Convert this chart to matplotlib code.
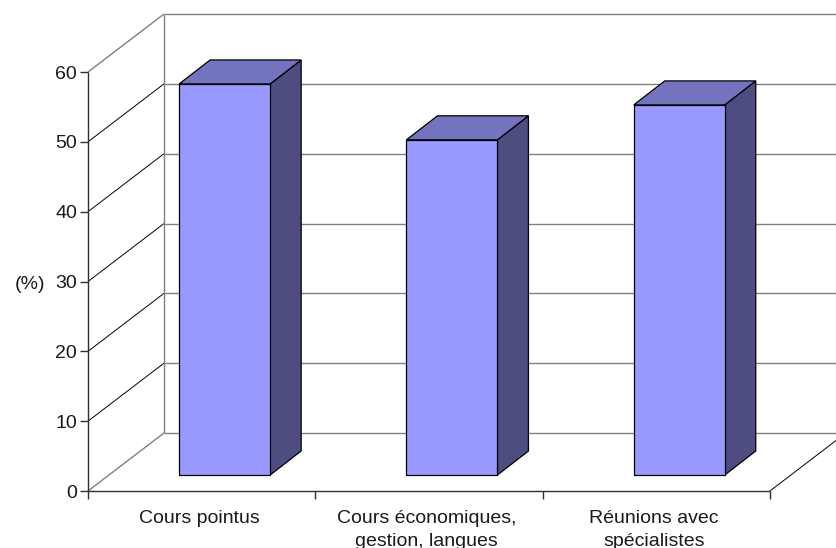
import matplotlib
matplotlib.use('Agg')
import matplotlib.pyplot as plt
from matplotlib.patches import Polygon

plt.rcParams['font.family'] = ['Liberation Sans', 'DejaVu Sans']

categories = ['Cours pointus', 'Cours économiques,\ngestion, langues', 'Réunions avec\nspécialistes']
values = [56, 48, 53]
yticks = [0, 10, 20, 30, 40, 50, 60]

W, H = 837, 548
# chart scale in pixels
x0, y0 = 88, 491
cat_w = 227.3
unit = 6.983
# depth of the walls, in data units
dx = 76 / cat_w
dy = 58 / unit
# bar settings
bar_w = 91 / cat_w
bar_dx = 31 / cat_w
bar_dy = 24 / unit
off_x = 23 / cat_w
off_y = 16 / unit

fig = plt.figure(figsize=(W / 100, H / 100), dpi=100)
ax = fig.add_axes([0, 0, 1, 1])
ax.set_xlim(-x0 / cat_w, (W - x0) / cat_w)
ax.set_ylim(-(H - y0) / unit, y0 / unit)
ax.axis('off')

n = len(categories)
ymax = yticks[-1]
gray = dict(color='#808080', lw=1.0, solid_capstyle='butt')
thin = dict(color='black', lw=0.7, solid_capstyle='butt')
axis = dict(color='#303030', lw=1.0, solid_capstyle='butt')

# back wall and side wall grid
for t in yticks:
    side = gray if t in (0, ymax) else thin
    ax.plot([0, dx], [t, t + dy], **side)
    ax.plot([dx, n + dx], [t + dy, t + dy], **gray)
ax.plot([dx, dx], [dy, ymax + dy], **gray)
# floor
ax.plot([n, n + dx], [0, dy], **thin)

# axes and ticks
ax.plot([0, 0], [0, ymax], **axis)
ax.plot([0, n], [0, 0], **axis)
for t in yticks:
    ax.plot([-8 / cat_w, 0], [t, t], **axis)
    ax.text(-11 / cat_w, t, str(t), ha='right', va='center_baseline', fontsize=14, color='#1a1a1a')
for i in range(n + 1):
    ax.plot([i, i], [0, -8 / unit], **axis)
ax.text(-43 / cat_w, 29.8, '(%)', ha='right', va='center_baseline', fontsize=14, color='#1a1a1a')

# bars
for i, v in enumerate(values):
    left = i + 0.5 - bar_w / 2 + off_x
    right = left + bar_w
    base = off_y
    top = base + v
    ax.add_patch(Polygon([(right, base), (right + bar_dx, base + bar_dy),
                          (right + bar_dx, top + bar_dy), (right, top)],
                         fc='#4d4d80', ec='black', lw=0.9, zorder=3))
    ax.add_patch(Polygon([(left, top), (right, top), (right + bar_dx, top + bar_dy),
                          (left + bar_dx, top + bar_dy)],
                         fc='#7373bf', ec='black', lw=0.9, zorder=3))
    ax.add_patch(Polygon([(left, base), (right, base), (right, top), (left, top)],
                         fc='#9999ff', ec='black', lw=0.9, zorder=3))

# category labels
for i, c in enumerate(categories):
    ax.text(i + 0.49, -(510 - y0) / unit, c, ha='center', va='top', fontsize=14,
            linespacing=1.5, color='#1a1a1a')

fig.savefig('out.png', dpi=100)
